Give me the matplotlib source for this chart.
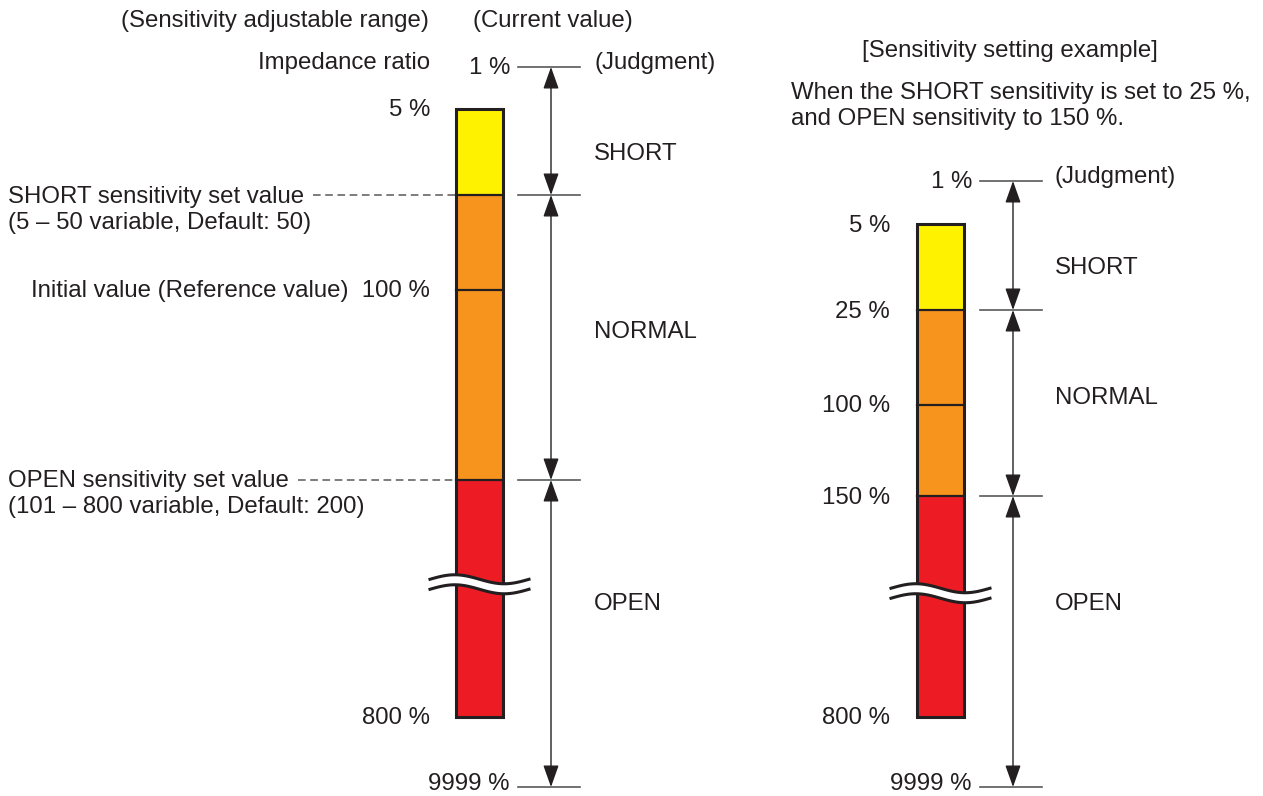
import numpy as np
import matplotlib.pyplot as plt
from matplotlib.patches import Rectangle, Polygon

plt.rcParams['font.family'] = ['Liberation Sans', 'DejaVu Sans']

TEXT = '#231f20'
GRAY = '#58595b'
YELLOW = '#fff200'
ORANGE = '#f7941d'
RED = '#ed1c24'

# impedance ratio levels (%) and where they sit on the schematic (pixel rows)
left_levels = [1, 5, 50, 100, 200, 800, 9999]
left_rows = [67, 109, 195, 290, 480, 717, 787]
right_levels = [1, 5, 25, 100, 150, 800, 9999]
right_rows = [181, 224, 310, 405, 496, 717, 787]

judgments = ['SHORT', 'NORMAL', 'OPEN']

fig = plt.figure(figsize=(12.63, 7.96), dpi=100)
ax = fig.add_axes([0, 0, 1, 1])
ax.set_xlim(0, 1263)
ax.set_ylim(796, 0)
ax.axis('off')
FS = 17.3


def txt(x, y, s, ha='left'):
    ax.text(x, y + 1.5, s, ha=ha, va='center', fontsize=FS, color=TEXT)


def draw_panel(levels, rows, bar_x, arrow_x, label_x, judge_x, mids):
    pos = dict(zip(levels, rows))
    bw = 47
    top, sh, mid, op, bot = pos[levels[1]], pos[levels[2]], pos[levels[3]], pos[levels[4]], pos[levels[5]]
    for y0, y1, c in [(top, sh, YELLOW), (sh, op, ORANGE), (op, bot, RED)]:
        ax.add_patch(Rectangle((bar_x, y0), bw, y1 - y0, facecolor=c,
                               edgecolor='none', zorder=2))
    ax.add_patch(Rectangle((bar_x, top), bw, bot - top, facecolor='none',
                           edgecolor=TEXT, lw=2.2, zorder=4))
    for y in (sh, mid, op):
        ax.plot([bar_x, bar_x + bw], [y, y], color=TEXT, lw=1.6, zorder=4)

    # break mark
    brk = op + (bot - op) * 0.44
    xs = np.linspace(bar_x - 26, bar_x + bw + 26, 60)
    wave = 4.5 * np.sin((xs - xs[0]) / (xs[-1] - xs[0]) * 2 * np.pi + np.pi)
    upper = brk - 5 + wave
    lower = brk + 5 + wave
    ax.add_patch(Polygon(np.column_stack([np.r_[xs, xs[::-1]],
                                          np.r_[upper, lower[::-1]]]),
                         facecolor='white', edgecolor='none', zorder=5))
    ax.plot(xs, upper, color=TEXT, lw=2.2, zorder=6)
    ax.plot(xs, lower, color=TEXT, lw=2.2, zorder=6)

    # judgment ticks and arrows
    ticks = [pos[levels[0]], sh, op, pos[levels[6]]]
    for y in ticks:
        ax.plot([arrow_x - 33, arrow_x + 29], [y, y], color=GRAY, lw=1.2)
    for y0, y1 in zip(ticks[:-1], ticks[1:]):
        ax.annotate('', xy=(arrow_x, y1), xytext=(arrow_x, y0),
                    arrowprops=dict(arrowstyle='<|-|>,head_length=0.9,head_width=0.32',
                                    color=TEXT, lw=1.0, mutation_scale=15,
                                    shrinkA=0, shrinkB=0))
    txt(judge_x, ticks[0] - 5, '(Judgment)')
    for name, y in zip(judgments, mids):
        txt(judge_x, y, name)

    txt(arrow_x - 41, ticks[0], f'{levels[0]} %', ha='right')
    # kept a touch higher so it stays inside the canvas
    txt(arrow_x - 41, ticks[-1] - 4, f'{levels[6]} %', ha='right')
    txt(label_x, top, f'{levels[1]} %', ha='right')
    txt(label_x, bot, f'{levels[5]} %', ha='right')
    return pos


# left panel
lp = draw_panel(left_levels, left_rows, 456, 551, 430, 594, [152, 330, 603])
txt(275, 20, '(Sensitivity adjustable range)', ha='center')
txt(553, 20, '(Current value)', ha='center')
txt(430, 61, 'Impedance ratio', ha='right')
txt(430, lp[100], 'Initial value (Reference value)  100 %', ha='right')
txt(8, lp[50], 'SHORT sensitivity set value')
txt(8, lp[50] + 26, '(5 \u2013 50 variable, Default: 50)')
ax.plot([313, 456], [lp[50], lp[50]], color=GRAY, lw=1.1, ls=(0, (5, 3)))
txt(8, lp[200], 'OPEN sensitivity set value')
txt(8, lp[200] + 26, '(101 \u2013 800 variable, Default: 200)')
ax.plot([298, 456], [lp[200], lp[200]], color=GRAY, lw=1.1, ls=(0, (5, 3)))

# right panel
rp = draw_panel(right_levels, right_rows, 917, 1013, 890, 1055, [266, 396, 602])
txt(1010, 50, '[Sensitivity setting example]', ha='center')
txt(791, 92, 'When the SHORT sensitivity is set to 25 %,')
txt(791, 118, 'and OPEN sensitivity to 150 %.')
for lv in (25, 100, 150):
    txt(890, rp[lv], f'{lv} %', ha='right')

fig.savefig('out.png', dpi=100)
